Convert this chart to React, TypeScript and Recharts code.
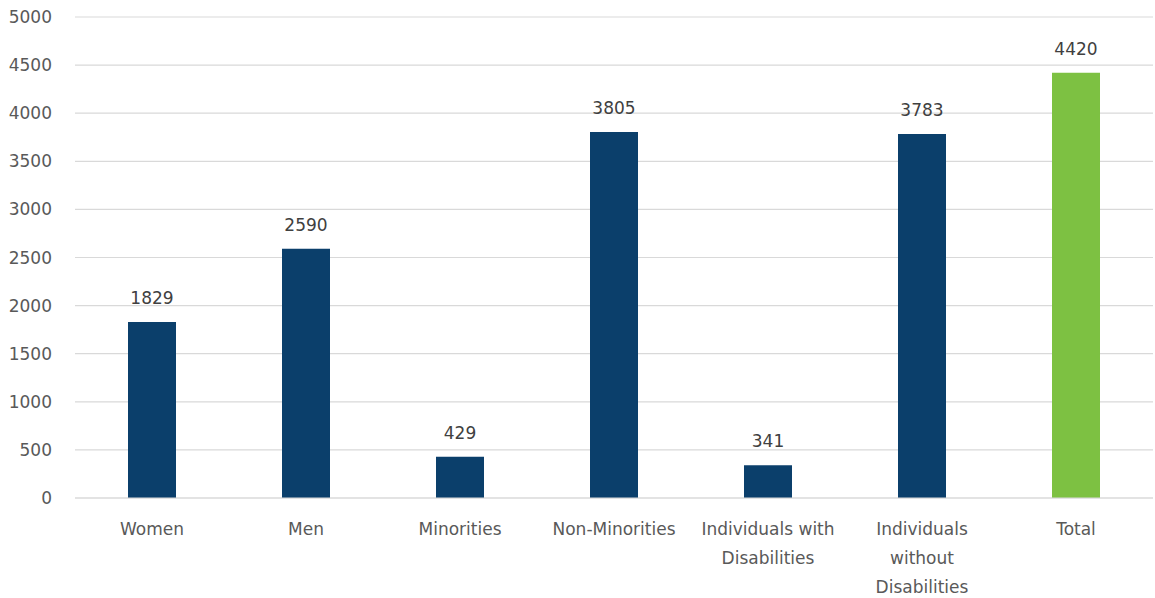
import { BarChart, Bar, XAxis, YAxis, CartesianGrid, Cell, LabelList } from 'recharts';

const categories = [
  'Women',
  'Men',
  'Minorities',
  'Non-Minorities',
  'Individuals with Disabilities',
  'Individuals without Disabilities',
  'Total',
];
const counts = [1829, 2590, 429, 3805, 341, 3783, 4420];
const yTicks = [0, 500, 1000, 1500, 2000, 2500, 3000, 3500, 4000, 4500, 5000];

const NAVY = '#0b3f6b';
const GREEN = '#7dc142';
const FONT = '"DejaVu Sans", sans-serif';

const data = categories.map((name, i) => ({ name, value: counts[i] }));

// split a label into lines of at most ~16 characters
function wrap(label: string, max = 16): string[] {
  const lines: string[] = [];
  let cur = '';
  for (const w of label.split(' ')) {
    const next = cur ? `${cur} ${w}` : w;
    if (next.length > max && cur) {
      lines.push(cur);
      cur = w;
    } else {
      cur = next;
    }
  }
  if (cur) lines.push(cur);
  return lines;
}

function CategoryTick(props: any) {
  const { x, y, payload } = props;
  const lines = wrap(payload.value);
  return (
    <text x={x} y={y} textAnchor="middle" fill="#595959" fontSize={17} fontFamily={FONT}>
      {lines.map((l, i) => (
        <tspan key={i} x={x} dy={i === 0 ? 35 : 29}>
          {l}
        </tspan>
      ))}
    </text>
  );
}

export default function App() {
  return (
    <div style={{ position: 'absolute', left: 0, top: 0, background: '#fff' }}>
      <BarChart
        width={1155}
        height={598}
        data={data}
        margin={{ top: 17, right: 2, left: 0, bottom: 0 }}
        barCategoryGap={53}
      >
        <CartesianGrid vertical={false} stroke="#d9d9d9" strokeWidth={1.2} />
        <XAxis
          dataKey="name"
          interval={0}
          height={100}
          tickLine={false}
          axisLine={{ stroke: '#d9d9d9', strokeWidth: 1.2 }}
          tickSize={0}
          tick={<CategoryTick />}
        />
        <YAxis
          width={75}
          domain={[0, 5000]}
          ticks={yTicks}
          interval={0}
          axisLine={false}
          tickLine={false}
          tickSize={0}
          tickMargin={23}
          tick={{ fill: '#595959', fontSize: 17, fontFamily: FONT }}
        />
        <Bar dataKey="value" isAnimationActive={false}>
          {data.map((d, i) => (
            <Cell key={d.name} fill={d.name === 'Total' ? GREEN : NAVY} />
          ))}
          <LabelList
            dataKey="value"
            position="top"
            offset={18}
            fill="#404040"
            fontSize={17}
            fontFamily={FONT}
          />
        </Bar>
      </BarChart>
    </div>
  );
}
